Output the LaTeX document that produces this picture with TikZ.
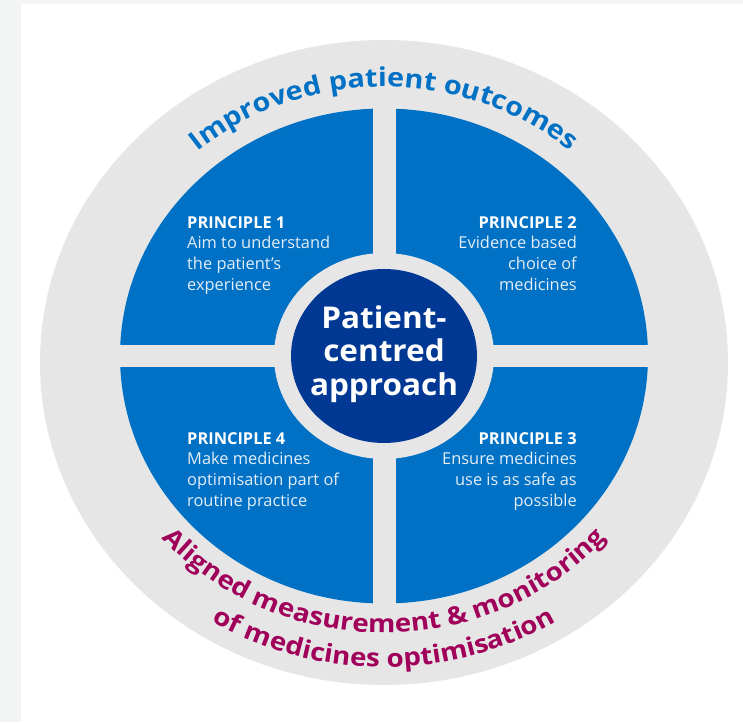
\documentclass[tikz,border=0pt]{standalone}
\usepackage{fontspec}
\setmainfont{Open Sans}
\newfontfamily\ringfont{Open Sans}[FakeStretch=1.11]
\newfontfamily\corefont{Open Sans}[FakeStretch=1.05]
\usetikzlibrary{decorations.text,positioning}

\definecolor{panelgrey}{HTML}{F3F4F4}
\definecolor{ringgrey}{HTML}{E6E6E6}
\definecolor{quadblue}{HTML}{0071C5}
\definecolor{coreblue}{HTML}{003893}
\definecolor{plum}{HTML}{A0005A}
\definecolor{softwhite}{HTML}{E3EEF8}

\tikzstyle{principle} = [text=softwhite, align=left, inner sep=0pt, font=\fontsize{16.4}{20.7}\selectfont]
\tikzstyle{principle right} = [principle, align=right]
\tikzstyle{core} = [text=white, align=center, inner sep=0pt, font=\corefont\bfseries\fontsize{30}{33.5}\selectfont]
\tikzstyle{curved} = [decorate, decoration={text along path, text align=center}]
\newcommand{\heading}[1]{{\color{white}\bfseries #1}}

\begin{document}
\begin{tikzpicture}[x=1pt, y=1pt]
  % backdrop
  \fill[panelgrey] (0,0) rectangle (743,722);
  \fill[white] (21,0) rectangle (743,718);
  \useasboundingbox (0,0) rectangle (743,722);

  \coordinate (hub) at (384,366);

  % rings and quadrants
  \fill[ringgrey] (384,359.5) ellipse [x radius=344, y radius=322.5];
  \fill[quadblue] (hub) ellipse [x radius=264, y radius=247.5];
  \fill[ringgrey] (372.5,116) rectangle (395.5,616);
  \fill[ringgrey] (118,355) rectangle (650,377);
  \fill[ringgrey] (hub) ellipse [x radius=110, y radius=103];
  \fill[coreblue] (hub) ellipse [x radius=93, y radius=87];

  \node [core] (centre) at (384,368) {Patient-\\centred\\approach};

  \node [principle, anchor=north west] (p1) at (187,506) {\heading{PRINCIPLE 1}\\Aim to understand\\the patient’s\\experience};
  \node [principle right, anchor=north east] (p2) at (577,506) {\heading{PRINCIPLE 2}\\Evidence based\\choice of\\medicines};
  \node [principle right, anchor=north east] (p3) at (577,290) {\heading{PRINCIPLE 3}\\Ensure medicines\\use is as safe as\\possible};
  \node [principle, anchor=north west] (p4) at (187,290) {\heading{PRINCIPLE 4}\\Make medicines\\optimisation part of\\routine practice};

  % text round the ring
  \path [curved, decoration={text={|\ringfont\bfseries\fontsize{26}{26}\selectfont|Improved patient outcomes}, text color=quadblue}]
    (hub) ++(160:287 and 269) arc [start angle=160, end angle=20, x radius=287, y radius=269];
  \path [curved, decoration={text={|\ringfont\bfseries\fontsize{25}{25}\selectfont|Aligned measurement {\&} monitoring}, text color=plum}]
    (hub) ++(200:295 and 277) arc [start angle=200, end angle=340, x radius=295, y radius=277];
  \path [curved, decoration={text={|\ringfont\bfseries\fontsize{25}{25}\selectfont|of medicines optimisation}, text color=plum}]
    (hub) ++(200:332 and 311) arc [start angle=200, end angle=340, x radius=332, y radius=311];
\end{tikzpicture}
\end{document}
